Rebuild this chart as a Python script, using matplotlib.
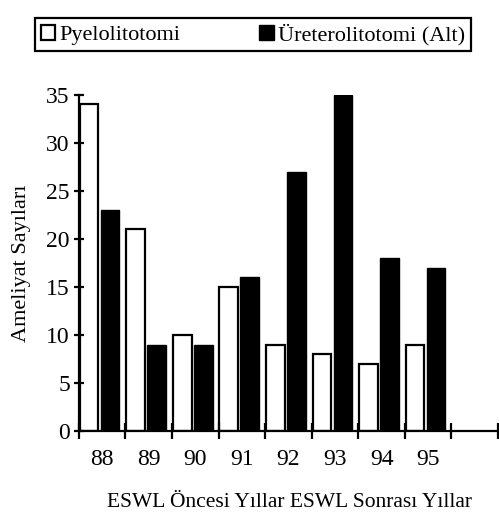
import numpy as np
import matplotlib.pyplot as plt

# Data
years = ['88', '89', '90', '91', '92', '93', '94', '95']
pyelolitotomi = [34, 21, 10, 15, 9, 8, 7, 9]
ureterolitotomi = [23, 9, 9, 16, 27, 35, 18, 17]

plt.rcParams['font.family'] = ['Liberation Serif', 'DejaVu Serif']

fig = plt.figure(figsize=(4.99, 5.15), dpi=100)
ax = fig.add_axes([0.158, 0.163, 0.84, 0.653])

x = np.arange(len(years))
w = 0.4
p_bars = ax.bar(x + 0.22, pyelolitotomi, width=w, color='white',
                edgecolor='black', linewidth=1.6, label='Pyelolitotomi')
u_bars = ax.bar(x + 0.67, ureterolitotomi, width=w, color='black',
                edgecolor='black', linewidth=1.0, label='Üreterolitotomi (Alt)')

ax.set_xlim(0, 9)
ax.set_ylim(0, 35)
ax.set_xticks(np.arange(0, 10))
ax.set_xticklabels([])
ax.set_xticks(x + 0.5, minor=True)
ax.set_xticklabels(years, minor=True, fontsize=17)
ax.tick_params(axis='x', which='minor', length=0, pad=13)
ax.tick_params(axis='x', which='major', direction='inout', length=11, width=1.6)
ax.set_yticks(np.arange(0, 36, 5))
ax.tick_params(axis='y', direction='inout', length=7, width=1.6, labelsize=17, pad=3)

for side in ['top', 'right']:
    ax.spines[side].set_visible(False)
for side in ['left', 'bottom']:
    ax.spines[side].set_linewidth(1.6)

ax.set_ylabel('Ameliyat Sayıları', fontsize=16, labelpad=11)
fig.text(0.58, 0.024, 'ESWL Öncesi Yıllar ESWL Sonrası Yıllar',
         ha='center', va='center', fontsize=15.5)

leg = fig.legend([p_bars, u_bars], ['Pyelolitotomi', 'Üreterolitotomi (Alt)'],
                 loc='lower left', bbox_to_anchor=(35/499, 1 - 51/515, 436/499, 38/515),
                 mode='expand', ncol=2, fontsize=16, fancybox=False, framealpha=1,
                 edgecolor='black', handlelength=0.65, handleheight=0.65,
                 handletextpad=0.2, borderaxespad=0, borderpad=0.25)
leg.get_frame().set_linewidth(1.6)

plt.savefig('out.png', dpi=100)
